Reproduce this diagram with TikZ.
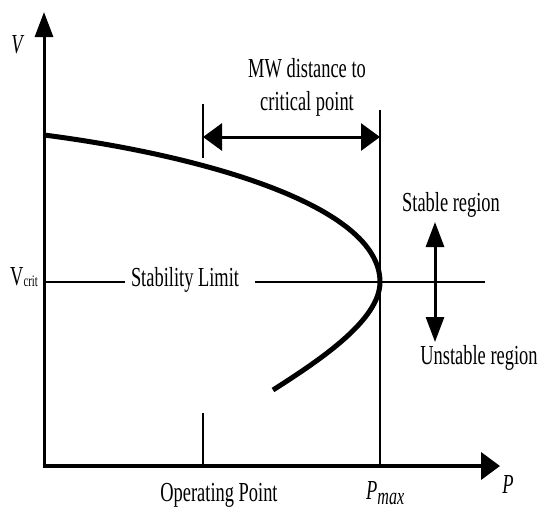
\documentclass[tikz,border=0pt]{standalone}
\usepackage{fontspec}
\setmainfont[FakeStretch=0.67]{Liberation Serif}
\usetikzlibrary{arrows.meta}

\def\vcrit{282}
\def\pmax{380}
\def\pop{203}

\begin{document}
\begin{tikzpicture}[x=1pt,y=-1pt,
    lbl/.style={font=\fontsize{27.5}{30}\selectfont,inner sep=0pt,anchor=base},
    htip/.style={-{Triangle[length=19pt,width=27pt]}},
    vtip/.style={-{Triangle[length=25pt,width=18pt]}},
    hboth/.style={{Triangle[length=19pt,width=27pt]}-{Triangle[length=19pt,width=27pt]}},
    vboth/.style={{Triangle[length=25pt,width=18pt]}-{Triangle[length=25pt,width=18pt]}},
    thin line/.style={line width=1.5pt}]
  \useasboundingbox (0,0) rectangle (540,509);

  % axes
  \coordinate (O) at (44,466);
  \coordinate (Vtop) at (44,12);
  \coordinate (Pend) at (500,466);
  \path[vtip,draw,line width=3pt] ([yshift=2pt]O) -- (Vtop);
  \path[htip,draw,line width=4pt] ([xshift=-1.5pt]O) -- (Pend);
  \node[lbl] (V) at (18,53) {\textit{V}};
  \node[lbl] (P) at (508,493) {\textit{P}};

  % stability limit
  \coordinate (Vc) at (44,\vcrit);
  \coordinate (gapL) at (125,\vcrit);
  \coordinate (gapR) at (255,\vcrit);
  \coordinate (Lend) at (485,\vcrit);
  \node[lbl,anchor=base west] (Vcrit) at (10,285) {V\raisebox{-1.5pt}{\fontsize{16}{16}\selectfont crit}};
  \node[lbl] (stab) at (185,286) {Stability Limit};
  \path[draw,line width=2.5pt] (Vc) -- (gapL) (gapR) -- (Lend);

  % PV curve
  \draw[line width=5pt] (44,135) .. controls (200,155) and (\pmax,205) .. (\pmax,\vcrit)
    .. controls (\pmax,320) and (320,360) .. (273,390);

  % P max and operating point
  \coordinate (PmT) at (\pmax,110);
  \coordinate (PmB) at (\pmax,466);
  \coordinate (OpT) at (\pop,104);
  \coordinate (OpC) at (\pop,158);
  \coordinate (OpL) at (\pop,413);
  \coordinate (OpB) at (\pop,466);
  \path[draw,thin line] (PmT) -- (PmB);
  \path[draw,thin line] (OpT) -- (OpC);
  \path[draw,thin line] (OpL) -- (OpB);
  \node[lbl,anchor=base west] (Pmax) at (366,499) {\textit{P}\raisebox{-5pt}{\fontsize{24}{24}\selectfont\itshape max}};
  \node[lbl] (oppt) at (219,501) {Operating Point};

  % MW distance
  \coordinate (mwL) at (\pop,137);
  \coordinate (mwR) at (\pmax,137);
  \path[hboth,draw,line width=3pt] (mwL) -- (mwR);
  \node[lbl] (mw1) at (307,77) {MW distance to};
  \node[lbl] (mw2) at (307,110) {critical point};

  % regions
  \coordinate (rgT) at (435,222);
  \coordinate (rgB) at (435,342);
  \path[vboth,draw,line width=3pt] (rgT) -- (rgB);
  \node[lbl] (stable) at (451,211) {Stable region};
  \node[lbl] (unstable) at (479,364) {Unstable region};
\end{tikzpicture}
\end{document}
